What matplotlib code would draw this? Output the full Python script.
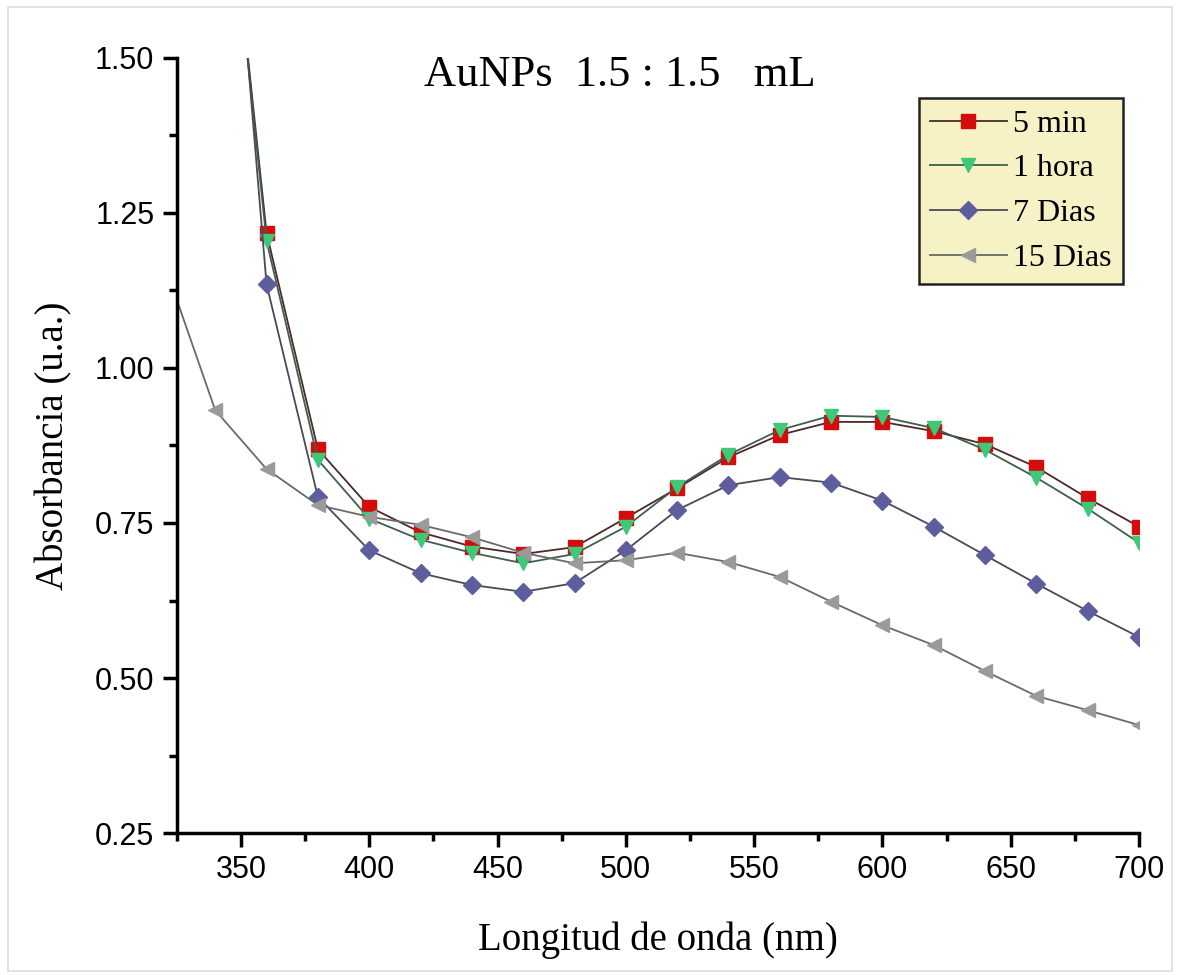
import numpy as np
import matplotlib.pyplot as plt
from matplotlib.patches import Rectangle

# longitud de onda (nm)
wl = [340, 360, 380, 400, 420, 440, 460, 480, 500, 520, 540, 560, 580, 600, 620, 640, 660, 680, 700]
wl_15 = [320] + wl

abs_5min = [2.00, 1.218, 0.869, 0.776, 0.735, 0.712, 0.700, 0.711, 0.758, 0.806, 0.856,
            0.892, 0.913, 0.913, 0.898, 0.877, 0.840, 0.790, 0.744]
abs_1h = [2.00, 1.205, 0.852, 0.757, 0.723, 0.702, 0.685, 0.700, 0.744, 0.808, 0.860,
          0.900, 0.923, 0.921, 0.903, 0.868, 0.823, 0.773, 0.718]
abs_7d = [2.13, 1.135, 0.792, 0.706, 0.669, 0.650, 0.639, 0.653, 0.706, 0.771, 0.811,
          0.824, 0.815, 0.786, 0.744, 0.698, 0.652, 0.608, 0.566]
abs_15d = [1.17, 0.932, 0.837, 0.779, 0.760, 0.747, 0.727, 0.702, 0.685, 0.690, 0.702, 0.687,
           0.663, 0.623, 0.585, 0.553, 0.511, 0.471, 0.448, 0.424]

series = [
    (wl, abs_5min, '5 min', 's', '#d40c0c', '#4a2a2a'),
    (wl, abs_1h, '1 hora', 'v', '#3ec878', '#3f5f4a'),
    (wl, abs_7d, '7 Dias', 'D', '#5e5e9e', '#4a4a55'),
    (wl_15, abs_15d, '15 Dias', '<', '#9a9a9a', '#6a6a6a'),
]

fig = plt.figure(figsize=(11.78, 9.75), dpi=100)
ax = fig.add_axes([0.150, 0.1456, 0.817, 0.795])

for x, y, lab, mk, mc, lc in series:
    ax.plot(x, y, color=lc, lw=1.3, marker=mk, markersize=10 if mk != 'D' else 9,
            markerfacecolor=mc, markeredgecolor=mc, label=lab)

ax.set_xlim(325, 700)
ax.set_ylim(0.25, 1.5)
ax.set_xticks(np.arange(350, 701, 50))
ax.set_xticks(np.arange(325, 701, 25), minor=True)
ax.set_yticks([0.25, 0.50, 0.75, 1.00, 1.25, 1.50])
ax.set_yticks(np.arange(0.25, 1.51, 0.125), minor=True)
ax.yaxis.set_major_formatter(plt.FormatStrFormatter('%.2f'))

for s in ['top', 'right']:
    ax.spines[s].set_visible(False)
for s in ['left', 'bottom']:
    ax.spines[s].set_linewidth(2.5)
ax.tick_params(which='major', length=10, width=2.5, direction='out', labelsize=22, pad=6)
ax.tick_params(which='minor', length=6, width=2.5, direction='out')
for t in ax.get_xticklabels() + ax.get_yticklabels():
    t.set_family('Liberation Sans')

ax.set_xlabel('Longitud de onda (nm)', family='Liberation Serif', fontsize=28, labelpad=26)
ax.set_ylabel('Absorbancia (u.a.)', family='Liberation Serif', fontsize=28, labelpad=16)

ax.text(0.46, 0.978, 'AuNPs  1.5 : 1.5   mL', transform=ax.transAxes, ha='center', va='center',
        family='Liberation Serif', fontsize=32)

leg = ax.legend(loc='upper right', bbox_to_anchor=(0.983, 0.948), prop={'family': 'Liberation Serif', 'size': 23},
                frameon=True, fancybox=False, handlelength=2.4, handletextpad=0.2,
                borderpad=0.35, labelspacing=0.48, borderaxespad=0)
leg.get_frame().set_facecolor('#f7f1c6')
leg.get_frame().set_edgecolor('#222222')
leg.get_frame().set_linewidth(1.8)
leg.get_frame().set_alpha(1)

fig.patches.append(Rectangle((0.007, 0.004), 0.988, 0.989, transform=fig.transFigure,
                             fill=False, edgecolor='#dddddd', lw=1.2))

fig.savefig('out.png', dpi=100)
